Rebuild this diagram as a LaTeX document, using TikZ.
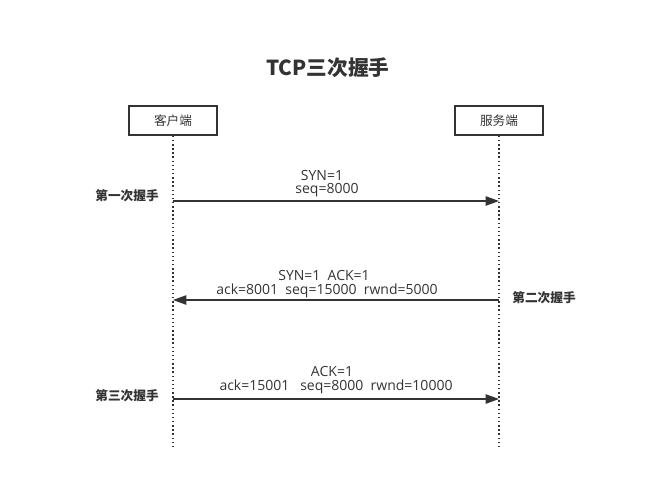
\documentclass[tikz,border=0pt]{standalone}
\usepackage{fontspec}
\setmainfont{Noto Sans CJK SC}
\newfontfamily\latinlbl{Open Sans}
\usetikzlibrary{arrows.meta}
\definecolor{ink}{HTML}{333333}
\begin{document}
\begin{tikzpicture}[x=0.75pt,y=-0.75pt,
  party/.style={draw=ink,line width=1.2pt,minimum width=88*0.75pt,minimum height=29*0.75pt,inner sep=0pt,font=\fontsize{9.5pt}{11pt}\selectfont,text=ink},
  life/.style={draw=ink,line width=1.1pt,dotted},
  msg/.style={draw=ink,line width=1.1pt,-{Triangle[length=10pt,width=7pt]}},
  lbl/.style={font=\latinlbl\fontsize{10.5pt}{12pt}\selectfont,text=ink,inner sep=0pt},
  phase/.style={font=\bfseries\fontsize{9.5pt}{11pt}\selectfont,text=ink,inner sep=0pt}]
\useasboundingbox (0,0) rectangle (656,483);
\node[font=\bfseries\fontsize{15.5pt}{18pt}\selectfont,text=ink] (title) at (328,68) {TCP三次握手};
\node[party] (c) at (173,120.5) {客户端};
\node[party] (s) at (499,120.5) {服务端};
\coordinate (cb) at (173,447);
\coordinate (sb) at (499,447);
\draw[life] (c.south) -- (cb);
\draw[life] (s.south) -- (sb);
\coordinate (c1) at (173,201); \coordinate (s1) at (499,201);
\coordinate (c2) at (173,300); \coordinate (s2) at (499,300);
\coordinate (c3) at (173,399); \coordinate (s3) at (499,399);
\draw[msg] (c1) -- (s1);
\draw[msg] (s2) -- (c2);
\draw[msg] (c3) -- (s3);
\node[lbl] (l1a) at (322,175) {SYN=1};
\node[lbl] (l1b) at (327,190) {seq=8000};
\node[lbl] (l2a) at (324,275) {SYN=1\ \ ACK=1};
\node[lbl] (l2b) at (327,291) {ack=8001\ \ seq=15000\ \ rwnd=5000};
\node[lbl] (l3a) at (332,371) {ACK=1};
\node[lbl] (l3b) at (336,387) {ack=15001\ \ \ seq=8000\ \ rwnd=10000};
\node[phase] (p1) at (127,196) {第一次握手};
\node[phase] (p2) at (544,298) {第二次握手};
\node[phase] (p3) at (127,396) {第三次握手};
\end{tikzpicture}
\end{document}
